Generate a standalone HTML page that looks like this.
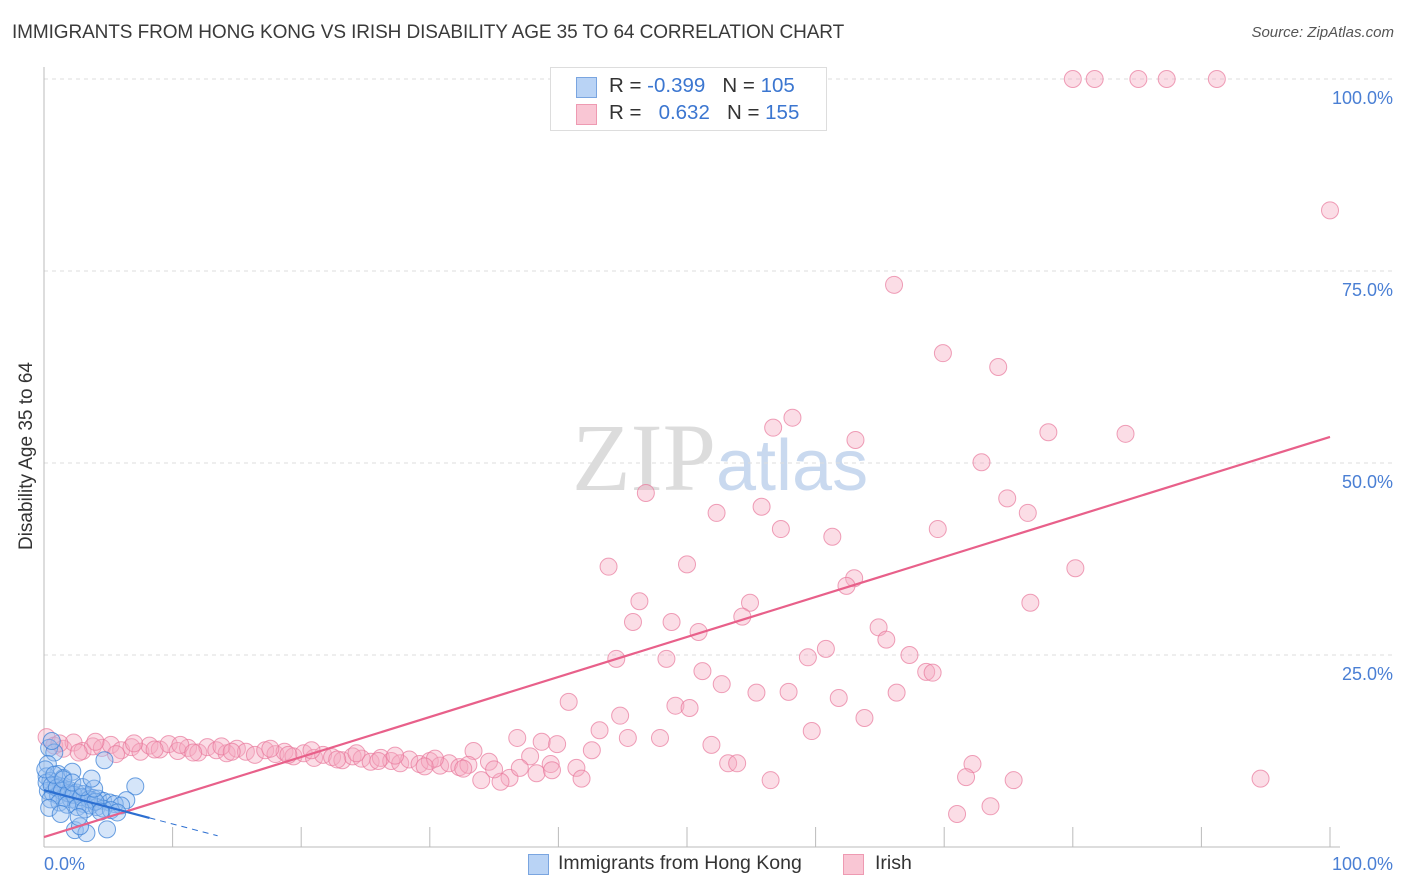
<!DOCTYPE html>
<html><head><meta charset="utf-8"><style>
body{margin:0;background:#fff;font-family:"Liberation Sans",sans-serif;}
#wrap{position:relative;width:1406px;height:892px;overflow:hidden;}
.t{position:absolute;white-space:nowrap;}
</style></head><body>
<div id="wrap">
<div class="t" style="left:12px;top:22px;font-size:19px;color:#3a3a3a;letter-spacing:-0.1px">IMMIGRANTS FROM HONG KONG VS IRISH DISABILITY AGE 35 TO 64 CORRELATION CHART</div>
<div class="t" style="right:12px;top:24px;font-size:15px;color:#555;font-style:italic">Source: ZipAtlas.com</div>
<div class="t" style="left:27px;top:456px;font-size:19px;color:#333;transform:translate(-50%,-50%) rotate(-90deg)">Disability Age 35 to 64</div>
<svg id="plot" width="1406" height="892" style="position:absolute;left:0;top:0">
<text x="716" y="490" text-anchor="end" font-family="Liberation Serif,serif" font-size="96" fill="#dcdcdc">ZIP</text>
<text x="716" y="490" font-family="Liberation Sans,sans-serif" font-size="72" fill="#c9d9ef">atlas</text>
</svg>
<div style="position:absolute;left:550px;top:67px;width:275px;height:62px;border:1px solid #ddd;background:#fff;">
<div style="position:absolute;left:25px;top:9px;width:19px;height:19px;background:#b9d3f5;border:1px solid #7aa5e0"></div>
<div style="position:absolute;left:25px;top:36px;width:19px;height:19px;background:#f9c6d4;border:1px solid #ee9ab2"></div>
<div class="t" style="left:58px;top:6px;font-size:20.5px;color:#333">R = <span style="color:#3b76d0">-0.399</span>&nbsp;&nbsp;&nbsp;N = <span style="color:#3b76d0">105</span></div>
<div class="t" style="left:58px;top:33px;font-size:20.5px;color:#333">R = &nbsp;&nbsp;<span style="color:#3b76d0">0.632</span>&nbsp;&nbsp;&nbsp;N = <span style="color:#3b76d0">155</span></div>
</div>
<div style="position:absolute;left:528px;top:854px;width:19px;height:19px;background:#b9d3f5;border:1px solid #7aa5e0"></div>
<div class="t" style="left:558px;top:852px;font-size:19.5px;color:#333">Immigrants from Hong Kong</div>
<div style="position:absolute;left:843px;top:854px;width:19px;height:19px;background:#f9c6d4;border:1px solid #ee9ab2"></div>
<div class="t" style="left:875px;top:852px;font-size:19.5px;color:#333">Irish</div>
</div>
<script>
const yTicks=[25,50,75,100];
const yTickLabels=["25.0%","50.0%","75.0%","100.0%"];
const xTicks=[10,20,30,40,50,60,70,80,90,100];
const pinkX=[80,81.7,85.1,87.3,91.2,100,66.1,69.9,74.2,58.2,56.7,63.1,78.1,84.1,72.9,46.8,74.9,52.3,55.8,76.5,57.3,69.5,61.3,43.9,50,80.2,63,62.4,46.3,54.9,76.7,54.3,45.8,48.8,50.9,64.9,65.5,60.8,59.4,67.3,44.5,48.4,51.2,68.6,69.1,52.7,55.4,57.9,66.3,61.8,40.8,49.1,50.2,63.8,44.8,43.2,59.7,45.4,47.9,36.8,38.7,39.9,51.9,42.6,33.4,37.8,34.6,39.4,53.2,53.9,72.2,41.4,71.7,38.3,56.5,75.4,94.6,41.8,36.2,34,35.5,73.6,71,
0.2,0.8,1.5,2.3,3,3.8,4.5,5.2,6,6.8,7.5,8.2,9,9.7,10.4,11.2,12,12.7,13.4,14.2,15,15.7,16.4,17.2,18,18.7,19.4,20.2,21,21.7,22.4,23.2,24,24.7,25.4,26.2,27,27.7,28.4,29.2,30,30.8,31.5,32.3,33,1.2,4,7,10.6,13.8,17.6,20.8,24.3,27.3,30.4,2.7,5.6,8.6,11.6,14.6,19,22.8,26,29.6,32.6,35,37,39.5];
const pinkY=[100,100,100,100,100,82.9,73.2,64.3,62.5,55.9,54.6,53,54,53.8,50.1,46.1,45.4,43.5,44.3,43.5,41.4,41.4,40.4,36.5,36.8,36.3,35,34,32,31.8,31.8,30,29.3,29.3,28,28.6,27,25.8,24.7,25,24.5,24.5,22.9,22.8,22.7,21.2,20.1,20.2,20.1,19.4,18.9,18.4,18.1,16.8,17.1,15.2,15.1,14.2,14.2,14.2,13.7,13.4,13.3,12.6,12.5,11.8,11.1,10.8,10.9,10.9,10.8,10.3,9.1,9.6,8.7,8.7,8.9,8.9,9,8.7,8.5,5.3,4.3,
14.3,13.2,12.8,13.6,12.5,13.1,12.9,13.3,12.6,13,12.4,13.2,12.7,13.4,12.5,12.9,12.3,13,12.6,12.2,12.8,12.4,12,12.6,12.1,12.4,11.8,12.2,11.6,12,11.7,11.3,11.8,11.5,11.1,11.6,11.2,10.9,11.4,10.8,11.2,10.6,10.9,10.4,10.7,13.5,13.7,13.5,13.3,13.1,12.8,12.6,12.2,11.9,11.5,12.3,12.1,12.7,12.3,12.4,12,11.4,11.2,10.5,10.2,10.1,10.3,10];
const blueX=[0.4,0.8,0.3,1.1,1.5,0.6,2.2,4.7,7.1,6.4,4.9,2.4,3.3,2.8,0.2,0.5,0.9,1.3,1.7,2,2.5,3,3.4,3.8,4.2,4.6,5.1,5.5,6,0.3,0.7,1.1,1.6,2.1,2.6,3.1,3.6,4.1,4.6,5.2,0.2,0.6,1,1.4,1.9,2.3,2.9,3.5,4,0.5,1.2,1.8,2.6,3.2,4.4,5.7,0.1,0.8,1.5,2.2,3,3.9,0.4,1.3,2.7,3.7];
const blueY=[12.9,12.3,10.8,9.5,9,13.8,9.8,11.3,7.9,6.1,2.3,2.2,1.8,2.7,9.2,8.6,8.1,7.9,7.5,7.4,7.1,6.9,6.6,6.4,6.3,6,5.8,5.6,5.4,7.3,7,6.7,6.4,6.2,5.9,5.6,5.4,5.2,5,4.8,8.4,8,7.7,7.3,7,6.8,6.5,6.2,5.9,6.2,5.8,5.5,5.2,4.9,4.6,4.5,10.1,9.4,8.8,8.4,7.8,7.6,5.1,4.3,3.9,8.9];
const pinkTrend=[1.3,53.4];
const blueTrend=[7.4,-0.44];
const svg=document.getElementById('plot');const NS='http://www.w3.org/2000/svg';
const X0=44,X1=1330,Y0=847,Y1=79;
const sx=v=>X0+(X1-X0)*v/100, sy=v=>Y0-(Y0-Y1)*v/100;
function mk(tag,attrs){const e=document.createElementNS(NS,tag);for(const k in attrs)e.setAttribute(k,attrs[k]);svg.appendChild(e);return e;}
for(let i=0;i<yTicks.length;i++){
 const g=mk('line',{x1:X0,x2:1395,y1:sy(yTicks[i]),y2:sy(yTicks[i]),stroke:'#ddd','stroke-dasharray':'4,4'});
 
 
 const t=mk('text',{x:1393,y:sy(yTicks[i])+25,'text-anchor':'end','font-size':18,fill:'#4a7fd4','font-family':'Liberation Sans,sans-serif'});
 t.textContent=yTickLabels[i];
 
 
}
const ax=mk('line',{x1:X0,x2:X0,y1:67,y2:Y0,stroke:'#bbb'});


const bx=mk('line',{x1:X0,x2:1340,y1:Y0,y2:Y0,stroke:'#bbb'});


for(const v of xTicks){const l=mk('line',{x1:sx(v),x2:sx(v),y1:Y0-20,y2:Y0,stroke:'#bbb'});
 
 }
const xl=mk('text',{x:X0,y:870,'font-size':18,fill:'#4a7fd4','font-family':'Liberation Sans,sans-serif'});xl.textContent='0.0%';


const xr=mk('text',{x:1393,y:870,'text-anchor':'end','font-size':18,fill:'#4a7fd4','font-family':'Liberation Sans,sans-serif'});xr.textContent='100.0%';


for(let i=0;i<pinkX.length;i++){const c=mk('circle',{cx:sx(pinkX[i]),cy:sy(pinkY[i]),r:8.5,fill:'rgba(246,170,192,0.4)',stroke:'rgba(232,120,155,0.7)','stroke-width':1});
 
 }
for(let i=0;i<blueX.length;i++){const c=mk('circle',{cx:sx(blueX[i]),cy:sy(blueY[i]),r:8.5,fill:'rgba(150,190,240,0.4)',stroke:'rgba(60,130,215,0.75)','stroke-width':1});
 
 }
const pl=mk('line',{x1:sx(0),y1:sy(pinkTrend[0]),x2:sx(100),y2:sy(pinkTrend[1]),stroke:'#e8608a','stroke-width':2.2});


const bl=mk('line',{x1:sx(0),y1:sy(blueTrend[0]),x2:sx(8.2),y2:sy(blueTrend[0]+blueTrend[1]*8.2),stroke:'#2c6fd1','stroke-width':2.2});


const bd=mk('line',{x1:sx(8.2),y1:sy(blueTrend[0]+blueTrend[1]*8.2),x2:sx(13.5),y2:sy(blueTrend[0]+blueTrend[1]*13.5),stroke:'#2c6fd1','stroke-width':1,'stroke-dasharray':'6,5'});


</script>
</body></html>
